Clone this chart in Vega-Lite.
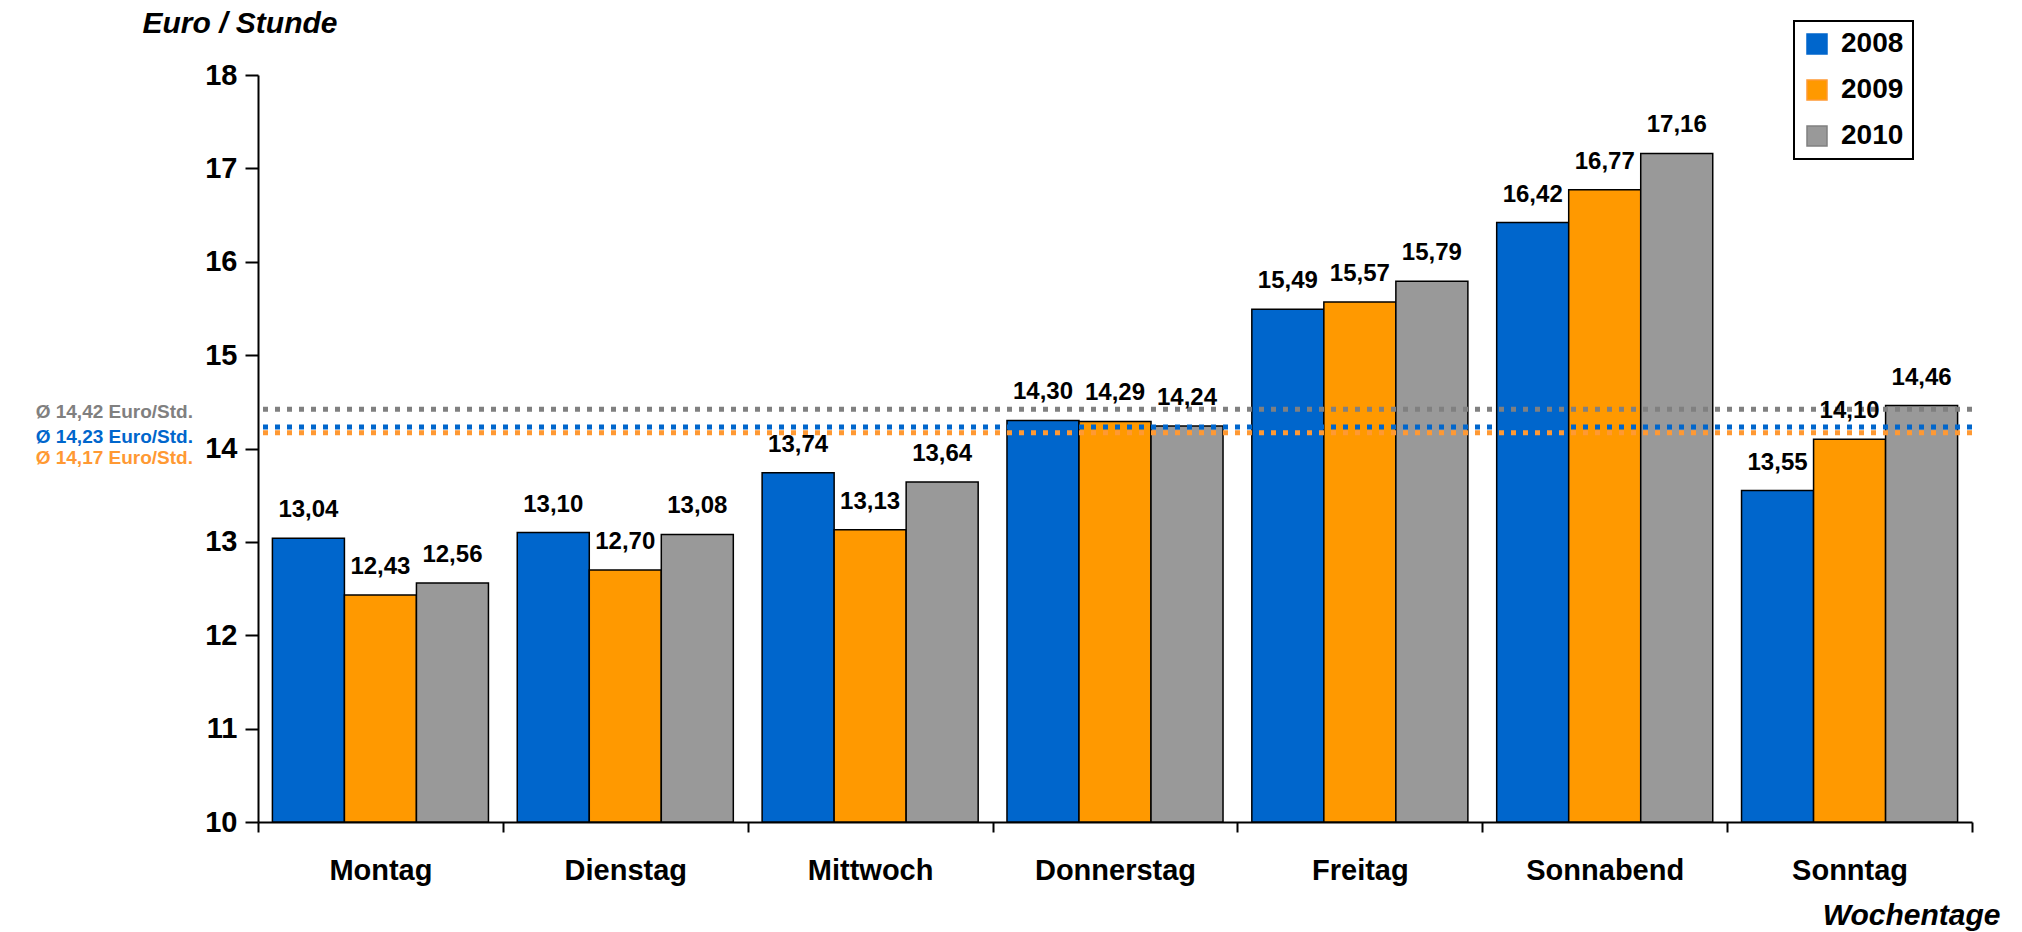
{
  "$schema": "https://vega.github.io/schema/vega-lite/v6.json",
  "width": 1714,
  "height": 747,
  "autosize": {"type": "none"},
  "padding": {"left": 258, "top": 75, "right": 50, "bottom": 110},
  "background": "white",
  "config": {
    "locale": {"number": {"decimal": ",", "thousands": ".", "grouping": [3], "currency": ["", " €"]}},
    "font": "Liberation Sans",
    "view": {"stroke": null},
    "legend": {"strokeWidth": 2},
    "axis": {
      "domainColor": "black", "domainWidth": 2, "tickColor": "black", "tickWidth": 2,
      "labelColor": "black", "labelFont": "Liberation Sans", "labelFontWeight": "bold", "labelFontSize": 29,
      "grid": false, "titleColor": "black", "titleFont": "Liberation Sans", "titleFontWeight": "bold", "titleFontStyle": "italic", "titleFontSize": 30
    }
  },
  "datasets": {
    "bars": [
      {"Tag": "Montag", "Jahr": "2008", "Wert": 13.04},
      {"Tag": "Montag", "Jahr": "2009", "Wert": 12.43},
      {"Tag": "Montag", "Jahr": "2010", "Wert": 12.56},
      {"Tag": "Dienstag", "Jahr": "2008", "Wert": 13.10},
      {"Tag": "Dienstag", "Jahr": "2009", "Wert": 12.70},
      {"Tag": "Dienstag", "Jahr": "2010", "Wert": 13.08},
      {"Tag": "Mittwoch", "Jahr": "2008", "Wert": 13.74},
      {"Tag": "Mittwoch", "Jahr": "2009", "Wert": 13.13},
      {"Tag": "Mittwoch", "Jahr": "2010", "Wert": 13.64},
      {"Tag": "Donnerstag", "Jahr": "2008", "Wert": 14.30},
      {"Tag": "Donnerstag", "Jahr": "2009", "Wert": 14.29},
      {"Tag": "Donnerstag", "Jahr": "2010", "Wert": 14.24},
      {"Tag": "Freitag", "Jahr": "2008", "Wert": 15.49},
      {"Tag": "Freitag", "Jahr": "2009", "Wert": 15.57},
      {"Tag": "Freitag", "Jahr": "2010", "Wert": 15.79},
      {"Tag": "Sonnabend", "Jahr": "2008", "Wert": 16.42},
      {"Tag": "Sonnabend", "Jahr": "2009", "Wert": 16.77},
      {"Tag": "Sonnabend", "Jahr": "2010", "Wert": 17.16},
      {"Tag": "Sonntag", "Jahr": "2008", "Wert": 13.55},
      {"Tag": "Sonntag", "Jahr": "2009", "Wert": 14.10},
      {"Tag": "Sonntag", "Jahr": "2010", "Wert": 14.46}
    ],
    "avg": [
      {"Jahr": "2010", "Schnitt": 14.42, "Text": "Ø 14,42 Euro/Std."},
      {"Jahr": "2008", "Schnitt": 14.23, "Text": "Ø 14,23 Euro/Std."},
      {"Jahr": "2009", "Schnitt": 14.17, "Text": "Ø 14,17 Euro/Std."}
    ]
  },
  "layer": [
    {
      "data": {"name": "bars"},
      "mark": {"type": "bar", "stroke": "black", "strokeWidth": 1.5},
      "encoding": {
        "x": {
          "field": "Tag", "type": "nominal", "sort": null,
          "scale": {"paddingInner": 0, "paddingOuter": 0},
          "title": "Wochentage",
          "axis": {"labelAngle": 0, "tickSize": 10, "tickBand": "extent", "labelPadding": 24,
                   "titleX": 1742, "titleY": 93, "titleAlign": "right", "titleBaseline": "middle", "titleAnchor": "end"}
        },
        "xOffset": {"field": "Jahr", "type": "nominal", "scale": {"paddingInner": 0, "paddingOuter": 0.2}},
        "y": {
          "field": "Wert", "type": "quantitative",
          "scale": {"domain": [10, 18], "nice": false, "zero": false},
          "title": "Euro / Stunde",
          "axis": {"values": [10, 11, 12, 13, 14, 15, 16, 17, 18], "format": "d", "tickSize": 13, "labelPadding": 8,
                   "titleAngle": 0, "titleX": -116, "titleY": -52, "titleAlign": "left", "titleBaseline": "middle", "titleAnchor": "start"}
        },
        "y2": {"datum": 10},
        "color": {
          "field": "Jahr", "type": "nominal",
          "scale": {"domain": ["2008", "2009", "2010"], "range": ["#0066CC", "#FF9900", "#999999"]},
          "legend": {
            "orient": "none", "legendX": 1536, "legendY": -54, "title": null,
            "symbolType": "square", "symbolSize": 400, "symbolStrokeColor": "black", "symbolStrokeWidth": 1.5,
            "labelFontSize": 28, "labelFontWeight": "bold", "labelColor": "black", "labelFont": "Liberation Sans",
            "labelOffset": 10, "rowPadding": 18, "padding": 9,
            "strokeColor": "black", "fillColor": "white"
          }
        }
      }
    },
    {
      "data": {"name": "avg"},
      "mark": {"type": "rule", "strokeWidth": 5, "strokeDash": [5, 7]},
      "encoding": {
        "y": {"field": "Schnitt", "type": "quantitative"},
        "stroke": {"field": "Jahr", "type": "nominal", "scale": {"domain": ["2008", "2009", "2010"], "range": ["#0066CC", "#FF9933", "#808080"]}, "legend": null}
      }
    },
    {
      "data": {"name": "bars"},
      "mark": {"type": "text", "dy": -28, "baseline": "middle", "fontSize": 24, "fontWeight": "bold", "color": "black", "font": "Liberation Sans"},
      "encoding": {
        "x": {"field": "Tag", "type": "nominal", "sort": null},
        "xOffset": {"field": "Jahr", "type": "nominal"},
        "y": {"field": "Wert", "type": "quantitative"},
        "text": {"field": "Wert", "type": "quantitative", "format": ".2f"}
      }
    },
    {
      "data": {"name": "avg"},
      "transform": [{"filter": "datum.Jahr == '2010'"}],
      "mark": {"type": "text", "align": "right", "baseline": "middle", "dx": -65, "dy": 3, "fontSize": 19, "fontWeight": "bold", "color": "#808080", "font": "Liberation Sans"},
      "encoding": {
        "x": {"datum": "Montag", "bandPosition": 0},
        "y": {"field": "Schnitt", "type": "quantitative"},
        "text": {"field": "Text"}
      }
    },
    {
      "data": {"name": "avg"},
      "transform": [{"filter": "datum.Jahr == '2008'"}],
      "mark": {"type": "text", "align": "right", "baseline": "middle", "dx": -65, "dy": 10, "fontSize": 19, "fontWeight": "bold", "color": "#0066CC", "font": "Liberation Sans"},
      "encoding": {
        "x": {"datum": "Montag", "bandPosition": 0},
        "y": {"field": "Schnitt", "type": "quantitative"},
        "text": {"field": "Text"}
      }
    },
    {
      "data": {"name": "avg"},
      "transform": [{"filter": "datum.Jahr == '2009'"}],
      "mark": {"type": "text", "align": "right", "baseline": "middle", "dx": -65, "dy": 25, "fontSize": 19, "fontWeight": "bold", "color": "#FF9933", "font": "Liberation Sans"},
      "encoding": {
        "x": {"datum": "Montag", "bandPosition": 0},
        "y": {"field": "Schnitt", "type": "quantitative"},
        "text": {"field": "Text"}
      }
    }
  ]
}
